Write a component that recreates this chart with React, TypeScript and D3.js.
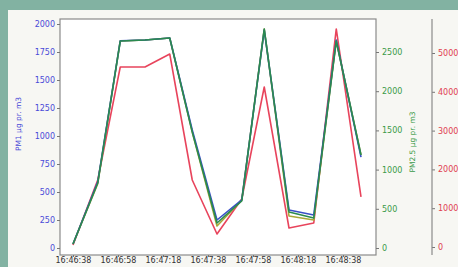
import React, { useEffect, useRef } from 'react';
import * as d3 from 'd3';

// sample timestamps (hh:mm:ss)
const times = [
  '16:46:38', '16:46:49', '16:46:59', '16:47:10', '16:47:21', '16:47:31', '16:47:42',
  '16:47:53', '16:48:03', '16:48:14', '16:48:25', '16:48:35', '16:48:46',
];
const tickLabels = ['16:46:38', '16:46:58', '16:47:18', '16:47:38', '16:47:58', '16:48:18', '16:48:38'];

const pm1 = [36, 590, 1850, 1857, 1875, 1054, 250, 430, 1946, 340, 295, 1857, 812];
const pm25 = [51, 830, 2640, 2653, 2679, 1480, 319, 600, 2793, 459, 383, 2640, 1186];
const pm4 = [51, 820, 2640, 2653, 2679, 1480, 281, 610, 2793, 408, 357, 2640, 1186];
const pm10 = [50, 1727, 4639, 4639, 4974, 1727, 335, 1237, 4124, 490, 619, 5619, 1289];

const leftTicks = [0, 250, 500, 750, 1000, 1250, 1500, 1750, 2000];
const greenTicks = [0, 500, 1000, 1500, 2000, 2500];
const redTicks = [0, 1000, 2000, 3000, 4000, 5000];

const secs = (s: string) => {
  const [h, m, x] = s.split(':').map(Number);
  return h * 3600 + m * 60 + x;
};

const App: React.FC = () => {
  const svgRef = useRef<SVGSVGElement>(null);

  useEffect(() => {
    if (!svgRef.current) return;
    const W = 458, H = 267;
    const box = { left: 60, right: 376, top: 19, bottom: 255 };
    const svg = d3.select(svgRef.current);
    svg.selectAll('*').remove();

    // photo background + figure
    svg.append('rect').attr('width', W).attr('height', H).attr('fill', '#82b2a2');
    svg.append('rect').attr('x', 8).attr('y', 10).attr('width', W - 8).attr('height', H - 10).attr('fill', '#f7f7f3');
    svg.append('rect')
      .attr('x', box.left).attr('y', box.top)
      .attr('width', box.right - box.left).attr('height', box.bottom - box.top)
      .attr('fill', '#ffffff');

    const t0 = secs(times[0]);
    const tN = secs(times[times.length - 1]);
    const x = d3.scaleLinear().domain([t0, tN]).range([73, 361]);
    const yL = d3.scaleLinear().domain([0, 2000]).range([248, 24]);
    const yG = d3.scaleLinear().domain([0, 2500]).range([248, 52]);
    const yR = d3.scaleLinear().domain([0, 5000]).range([247, 53]);

    const font = 'DejaVu Sans, sans-serif';
    const fs = 8;

    const series = [
      { vals: pm10, y: yR, color: '#e8445c' },
      { vals: pm4, y: yG, color: '#a8a838' },
      { vals: pm1, y: yL, color: '#3a4fc8' },
      { vals: pm25, y: yG, color: '#2a8a50' },
    ];
    series.forEach((s) => {
      const line = d3.line<number>()
        .x((_, i) => x(secs(times[i])))
        .y((d) => s.y(d));
      svg.append('path')
        .attr('d', line(s.vals))
        .attr('fill', 'none')
        .attr('stroke', s.color)
        .attr('stroke-width', 1.6)
        .attr('stroke-linejoin', 'round');
    });

    // plot frame
    svg.append('rect')
      .attr('x', box.left).attr('y', box.top)
      .attr('width', box.right - box.left).attr('height', box.bottom - box.top)
      .attr('fill', 'none').attr('stroke', '#8a8a8a').attr('stroke-width', 1.2);

    // left axis
    const gl = svg.append('g').attr('transform', `translate(${box.left},0)`);
    gl.call(d3.axisLeft(yL).tickValues(leftTicks).tickSize(3).tickPadding(2).tickFormat(d3.format('d')) as any);
    gl.select('.domain').remove();
    gl.selectAll('line').attr('stroke', '#777');
    gl.selectAll('text').attr('fill', '#4a4ad8').attr('font-size', fs).attr('font-family', font);

    svg.append('text')
      .attr('transform', 'translate(21,124) rotate(-90)')
      .attr('text-anchor', 'middle')
      .attr('font-size', 7.5).attr('font-family', font).attr('fill', '#4a4ad8')
      .text('PM1 μg pr. m3');

    // green right axis
    const gg = svg.append('g').attr('transform', `translate(${box.right},0)`);
    gg.call(d3.axisRight(yG).tickValues(greenTicks).tickSize(3).tickPadding(3).tickFormat(d3.format('d')) as any);
    gg.select('.domain').remove();
    gg.selectAll('line').attr('stroke', '#777');
    gg.selectAll('text').attr('fill', '#3a9a48').attr('font-size', fs).attr('font-family', font);

    svg.append('text')
      .attr('transform', 'translate(415,142) rotate(-90)')
      .attr('text-anchor', 'middle')
      .attr('font-size', 7.5).attr('font-family', font).attr('fill', '#3a9a48')
      .text('PM2.5 μg pr. m3');

    // red outer axis
    const gr = svg.append('g').attr('transform', 'translate(432,0)');
    gr.call(d3.axisRight(yR).tickValues(redTicks).tickSize(3).tickPadding(3).tickFormat(d3.format('d')) as any);
    gr.select('.domain').remove();
    gr.append('line').attr('y1', box.top).attr('y2', box.bottom).attr('stroke', '#8a8a8a').attr('stroke-width', 1.2);
    gr.selectAll('.tick line').attr('stroke', '#777');
    gr.selectAll('text').attr('fill', '#e04050').attr('font-size', fs).attr('font-family', font);

    // x axis
    const gx = svg.append('g').attr('transform', `translate(0,${box.bottom})`);
    gx.call(d3.axisBottom(x).tickValues(tickLabels.map(secs)).tickSize(2).tickPadding(0)
      .tickFormat((_, i) => tickLabels[i]) as any);
    gx.select('.domain').remove();
    gx.selectAll('line').attr('stroke', '#777');
    gx.selectAll('text').attr('fill', '#333').attr('font-size', 8).attr('font-family', font);
  }, []);

  return (
    <div style={{ position: 'fixed', left: 0, top: 0, width: 458, height: 267 }}>
      <svg ref={svgRef} width={458} height={267} style={{ display: 'block' }} />
    </div>
  );
};

export default App;
